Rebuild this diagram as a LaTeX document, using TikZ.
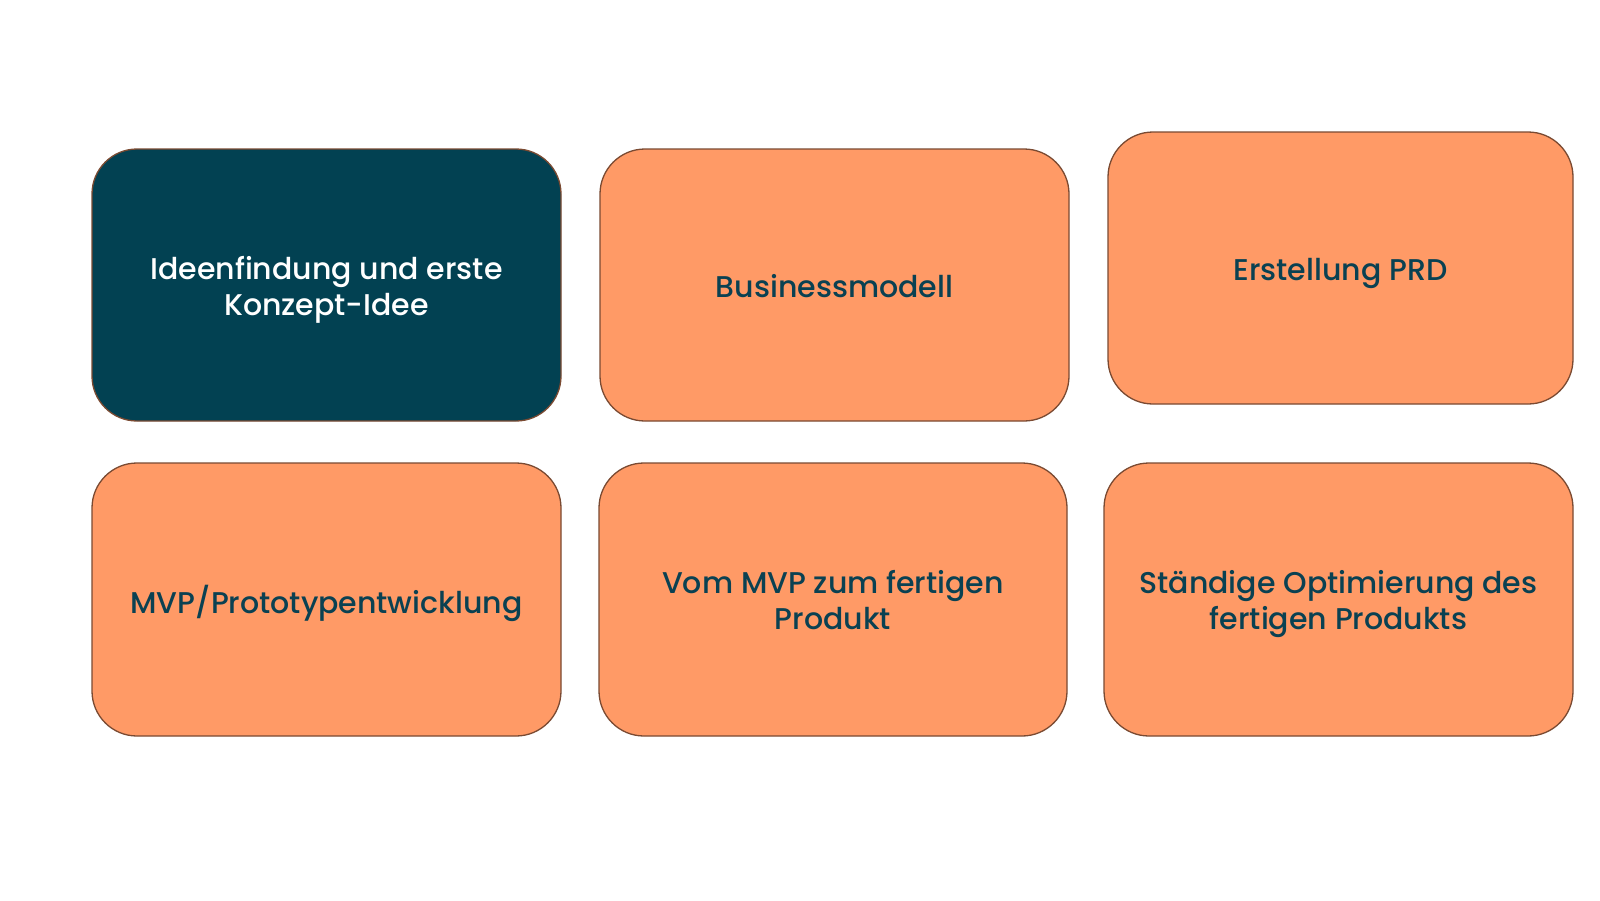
\documentclass[tikz,border=0pt]{standalone}
\usepackage{fontspec}
\setmainfont{Poppins}[UprightFont=* Medium]
\definecolor{boxorange}{HTML}{FF9A66}
\definecolor{boxdark}{HTML}{024152}
\definecolor{boxedge}{HTML}{7A4A32}
\definecolor{textdark}{HTML}{0A4152}
\newcommand{\lowtext}[1]{\raisebox{-5pt}[\height][\depth]{\begin{tabular}{@{}c@{}}#1\end{tabular}}}
\begin{document}
\begin{tikzpicture}[x=1pt,y=-1pt]
\tikzset{
  card/.style={draw=boxedge, line width=1.3pt, rounded corners=45pt, align=center,
    inner sep=0pt, font=\fontsize{30}{36}\selectfont},
  cardo/.style={card, fill=boxorange, text=textdark},
  cardd/.style={card, fill=boxdark, text=white},
}
\useasboundingbox[fill=white] (0,0) rectangle (1600,900);
\node[cardd, minimum width=469pt, minimum height=272pt] (b1) at (326.5,285) {\lowtext{Ideenfindung und erste\\Konzept-Idee}};
\node[cardo, minimum width=469pt, minimum height=272pt] (b2) at (834.5,285) {\lowtext{Businessmodell}};
\node[cardo, minimum width=465pt, minimum height=272pt] (b3) at (1340.5,268) {\lowtext{Erstellung PRD}};
\node[cardo, minimum width=469pt, minimum height=273pt] (b4) at (326.5,599.5) {\lowtext{MVP/Prototypentwicklung}};
\node[cardo, minimum width=468pt, minimum height=273pt] (b5) at (833,599.5) {\lowtext{Vom MVP zum fertigen\\Produkt}};
\node[cardo, minimum width=469pt, minimum height=273pt] (b6) at (1338.5,599.5) {\lowtext{Ständige Optimierung des\\fertigen Produkts}};
\end{tikzpicture}
\end{document}
